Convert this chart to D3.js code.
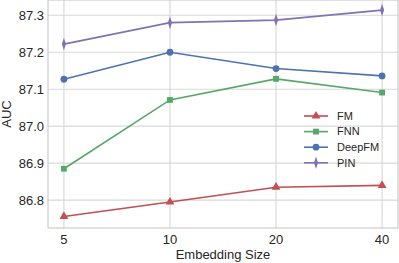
<!DOCTYPE html>
<meta charset="utf-8">
<html>
<head>
<style>
  body { margin: 0; background: #fff; }
  text { font-family: "Liberation Sans", Arial, sans-serif; fill: #262626; }
</style>
</head>
<body>
<div id="chart"></div>
<script src="https://d3js.org/d3.v7.min.js"></script>
<script>
  // embedding sizes on the x axis
  var sizes = ["5", "10", "20", "40"];
  var yTicks = [86.8, 86.9, 87.0, 87.1, 87.2, 87.3];

  // AUC values
  var fm     = [86.756, 86.795, 86.835, 86.840];
  var fnn    = [86.885, 87.071, 87.128, 87.091];
  var deepfm = [87.127, 87.200, 87.156, 87.136];
  var pin    = [87.222, 87.280, 87.287, 87.314];

  var series = [
    {name: "FM", values: fm, color: "#C44E52", marker: "triangle"},
    {name: "FNN", values: fnn, color: "#55A868", marker: "square"},
    {name: "DeepFM", values: deepfm, color: "#4C72B0", marker: "circle"},
    {name: "PIN", values: pin, color: "#8172B2", marker: "diamond"}
  ];

  var W = 399, H = 263;
  var margin = {top: 0, right: 1, bottom: 35, left: 48};
  var width = W - margin.left - margin.right,
      height = H - margin.top - margin.bottom;

  var svg = d3.select("#chart").append("svg")
      .attr("width", W).attr("height", H);
  var g = svg.append("g")
      .attr("transform", "translate(" + margin.left + "," + margin.top + ")");

  // index scale with matplotlib-like 5% margins
  var x = d3.scaleLinear().domain([-0.15, 3.15]).range([0, width]);
  var y = d3.scaleLinear().domain([86.7247, 87.3413]).range([height, 0]);

  // grid
  g.append("g").selectAll("line").data(sizes).enter().append("line")
    .attr("x1", function(d, i) { return x(i); })
    .attr("x2", function(d, i) { return x(i); })
    .attr("y1", 0).attr("y2", height)
    .attr("stroke", "#d9d9d9").attr("stroke-width", 1.2);
  g.append("g").selectAll("line").data(yTicks).enter().append("line")
    .attr("x1", 0).attr("x2", width)
    .attr("y1", function(d) { return y(d); })
    .attr("y2", function(d) { return y(d); })
    .attr("stroke", "#d9d9d9").attr("stroke-width", 1.2);

  // spines
  g.append("rect").attr("x", 0).attr("y", 0)
    .attr("width", width).attr("height", height)
    .attr("fill", "none").attr("stroke", "#cccccc").attr("stroke-width", 1.2);

  // tick labels
  g.append("g").selectAll("text").data(yTicks).enter().append("text")
    .attr("x", -4).attr("y", function(d) { return y(d); })
    .attr("dy", "0.35em").attr("text-anchor", "end")
    .style("font-size", "13px")
    .text(function(d) { return d3.format(".1f")(d); });
  g.append("g").selectAll("text").data(sizes).enter().append("text")
    .attr("x", function(d, i) { return x(i); }).attr("y", height + 16)
    .attr("text-anchor", "middle")
    .style("font-size", "13px")
    .text(function(d) { return d; });

  g.append("text")
    .attr("x", width / 2).attr("y", height + 31)
    .attr("text-anchor", "middle").style("font-size", "13px")
    .text("Embedding Size");
  g.append("text")
    .attr("transform", "translate(" + (-37) + "," + (height / 2) + ") rotate(-90)")
    .attr("text-anchor", "middle").style("font-size", "13px")
    .text("AUC");

  var shapes = {
    triangle: d3.symbolTriangle,
    square: d3.symbolSquare,
    circle: d3.symbolCircle,
    diamond: d3.symbolDiamond
  };
  function marker(sel, s) {
    var sym = d3.symbol().type(shapes[s.marker]).size(s.marker === "circle" ? 36 : 34);
    sel.attr("d", sym)
      .attr("fill", s.color);
    if (s.marker === "diamond") sel.attr("transform", function() {
      return d3.select(this).attr("transform") + " scale(0.65,1.15)";
    });
  }

  var line = d3.line()
    .x(function(d, i) { return x(i); })
    .y(function(d) { return y(d); });

  series.forEach(function(s) {
    g.append("path").datum(s.values)
      .attr("fill", "none").attr("stroke", s.color)
      .attr("stroke-width", 1.6).attr("d", line);
    g.append("g").selectAll("path").data(s.values).enter().append("path")
      .attr("transform", function(d, i) { return "translate(" + x(i) + "," + y(d) + ")"; })
      .each(function() { marker(d3.select(this), s); });
  });

  // legend
  var leg = g.append("g").attr("transform", "translate(" + (304 - margin.left) + ",116)");
  series.forEach(function(s, i) {
    var row = leg.append("g").attr("transform", "translate(0," + (i * 15.6) + ")");
    row.append("line").attr("x1", 0).attr("x2", 24).attr("y1", 0).attr("y2", 0)
      .attr("stroke", s.color).attr("stroke-width", 1.6);
    row.append("path").attr("transform", "translate(12,0)")
      .each(function() { marker(d3.select(this), s); });
    row.append("text").attr("x", 33).attr("y", 0).attr("dy", "0.35em")
      .style("font-size", "11px").text(s.name);
  });
</script>
</body>
</html>
